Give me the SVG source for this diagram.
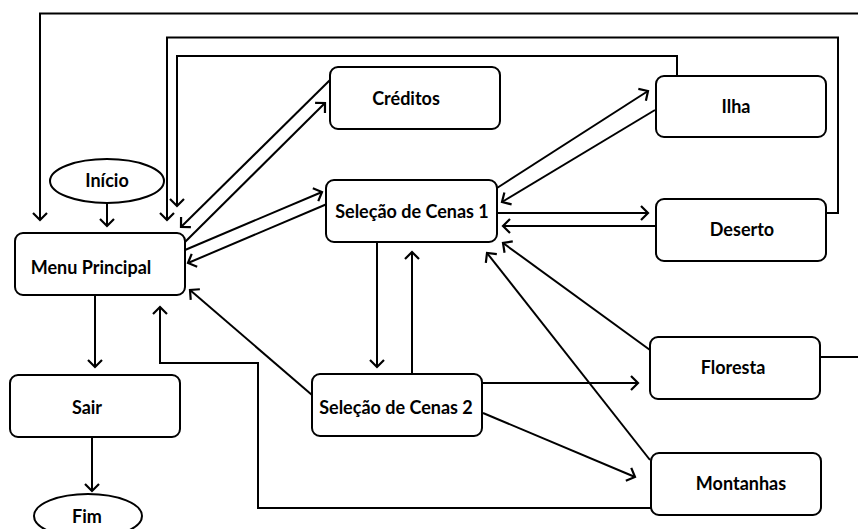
<svg xmlns="http://www.w3.org/2000/svg" width="858" height="529" viewBox="0 0 858 529">
<style>
.box{fill:#fff;stroke:#000;stroke-width:2}
.lbl{font-family:Lato,"Liberation Sans",sans-serif;font-weight:bold;font-size:18px;text-anchor:middle;fill:#000}
.c{fill:none;stroke:#000;stroke-width:2}
.a{marker-end:url(#arr)}
</style>
<defs>
<marker id="arr" markerUnits="userSpaceOnUse" markerWidth="20" markerHeight="20" refX="0" refY="0" viewBox="-10 -10 20 20" orient="auto" overflow="visible">
<path d="M-7,-7 L0,0 L-7,7" fill="none" stroke="#000" stroke-width="2.2"/>
</marker>
</defs>
<rect width="858" height="529" fill="#fff"/>
<g id="connectors">
<polyline class="c" points="40,220 40,13.5 858,13.5"/>
<path class="c a" d="M40,14 L40,220"/>
<polyline class="c a" points="827,213 838,213 838,37.5 167,37.5 167,220"/>
<polyline class="c a" points="677,76 677,56 177,56 177,206"/>
<path class="c a" d="M107,203 L107,226"/>
<path class="c a" d="M185,242 L325,103"/>
<path class="c a" d="M330,80 L181,227"/>
<path class="c a" d="M185,250 L322,192"/>
<path class="c a" d="M327,204 L188,263"/>
<path class="c a" d="M497,188 L648,91"/>
<path class="c a" d="M655,110 L502,202"/>
<path class="c a" d="M497,213 L648,213"/>
<path class="c a" d="M656,226 L503,226"/>
<path class="c a" d="M377,242 L377,367"/>
<path class="c a" d="M412,373 L412,252"/>
<path class="c a" d="M95,295 L95,367"/>
<path class="c a" d="M92,437 L92,491"/>
<polyline class="c a" points="651,508 258,508 258,363 160,363 160,307"/>
<path class="c a" d="M312,395 L190,290"/>
<path class="c a" d="M482,383 L638,383"/>
<path class="c a" d="M483,413 L635,477"/>
<path class="c a" d="M650,350 L503,243"/>
<path class="c a" d="M650,460 L487,253"/>
<path class="c" d="M820,357 L858,357"/>
</g>
<g id="inicio"><ellipse class="box" cx="107" cy="181" rx="57" ry="22"/><text class="lbl" x="107" y="187">Início</text></g>
<g id="menu"><rect class="box" x="15" y="233" width="170" height="62" rx="8"/><text class="lbl" x="91" y="274">Menu Principal</text></g>
<g id="creditos"><rect class="box" x="330" y="67" width="170" height="62" rx="8"/><text class="lbl" x="406" y="105">Créditos</text></g>
<g id="selecao1"><rect class="box" x="326" y="180" width="171" height="62" rx="8"/><text class="lbl" x="412" y="218">Seleção de Cenas 1</text></g>
<g id="ilha"><rect class="box" x="656" y="76" width="170" height="61" rx="8"/><text class="lbl" x="736" y="113">Ilha</text></g>
<g id="deserto"><rect class="box" x="656" y="199" width="170" height="62" rx="8"/><text class="lbl" x="742" y="236">Deserto</text></g>
<g id="sair"><rect class="box" x="10" y="375" width="170" height="62" rx="8"/><text class="lbl" x="87" y="414">Sair</text></g>
<g id="fim"><ellipse class="box" cx="88" cy="516" rx="54" ry="22"/><text class="lbl" x="87" y="523">Fim</text></g>
<g id="selecao2"><rect class="box" x="312" y="374" width="170" height="62" rx="8"/><text class="lbl" x="396" y="414">Seleção de Cenas 2</text></g>
<g id="floresta"><rect class="box" x="650" y="337" width="170" height="62" rx="8"/><text class="lbl" x="733" y="374">Floresta</text></g>
<g id="montanhas"><rect class="box" x="651" y="453" width="170" height="62" rx="8"/><text class="lbl" x="741" y="490">Montanhas</text></g>
</svg>
